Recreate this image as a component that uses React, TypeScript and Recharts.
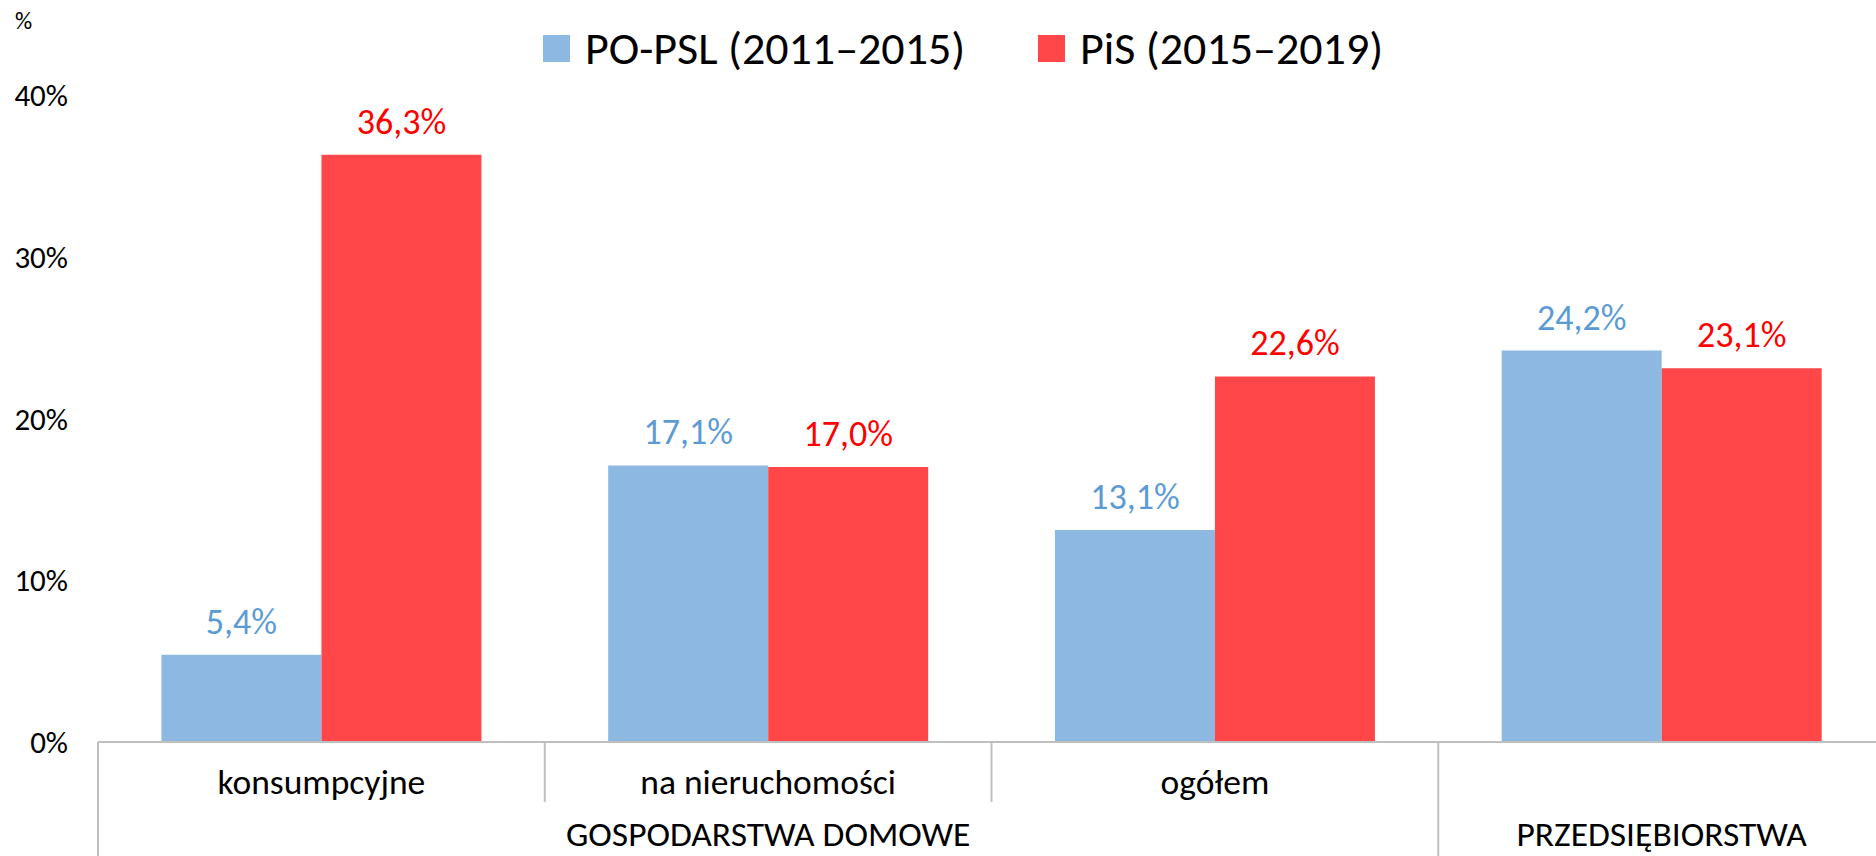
import React from 'react';
import { BarChart, Bar, XAxis, YAxis, Legend, LabelList } from 'recharts';

const categories = ['konsumpcyjne', 'na nieruchomości', 'ogółem', ''];
const groupLabels = ['', 'GOSPODARSTWA DOMOWE', '', 'PRZEDSIĘBIORSTWA'];
const groupStarts = [true, false, false, true];
const poPslValues = [5.4, 17.1, 13.1, 24.2];
const pisValues = [36.3, 17.0, 22.6, 23.1];
const seriesNames = ['PO-PSL (2011–2015)', 'PiS (2015–2019)'];
const yTicks = [0, 10, 20, 30, 40];

const data = categories.map((c, i) => ({
  name: c,
  po: poPslValues[i],
  pis: pisValues[i],
}));

const FONT = "Carlito, Lato, 'Open Sans', sans-serif";
const BLUE = '#8DB8E2';
const RED = '#FF474A';
const BLUE_LABEL = '#5B9BD5';
const RED_LABEL = '#FF0000';
const GRID = '#BFBFBF';

const CHART_W = 1900;
const MARGIN_R = 15;
const YAXIS_W = 98;
const BAND = (CHART_W - MARGIN_R - YAXIS_W) / categories.length;

const fmt = (v: any) => `${Number(v).toFixed(1).replace('.', ',')}%`;

const CatTick = (props: any) => {
  const { x, y, payload, index } = props;
  const half = payload && payload.offset ? payload.offset : BAND / 2;
  const left = x - half;
  const isLast = index === categories.length - 1;
  return (
    <g>
      <line x1={left} x2={left} y1={y} y2={groupStarts[index] ? y + 220 : y + 60} stroke={GRID} strokeWidth={2} />
      {isLast && <line x1={x + half} x2={x + half} y1={y} y2={y + 220} stroke={GRID} strokeWidth={2} />}
      {categories[index] && (
        <text x={x} y={y + 40} textAnchor="middle" dominantBaseline="central" fontSize={35.5} fontFamily={FONT} fill="#000">
          {categories[index]}
        </text>
      )}
      {groupLabels[index] && (
        <text x={x} y={y + 92} textAnchor="middle" dominantBaseline="central" fontSize={35.5} fontFamily={FONT} fill="#000">
          {groupLabels[index]}
        </text>
      )}
    </g>
  );
};

const LegendContent = () => (
  <div style={{ position: 'relative', width: 1876, height: 95, fontFamily: FONT }}>
    <span style={{ position: 'absolute', left: 15, top: 6, fontSize: 24, color: '#000', lineHeight: '30px' }}>%</span>
    {[BLUE, RED].map((col, i) => (
      <div
        key={i}
        style={{ position: 'absolute', left: i === 0 ? 543 : 1038, top: 20, height: 56, display: 'flex', alignItems: 'center' }}
      >
        <div style={{ width: 27, height: 27, background: col, marginRight: 15 }} />
        <span style={{ fontSize: 46, color: '#000', lineHeight: '56px', whiteSpace: 'nowrap' }}>{seriesNames[i]}</span>
      </div>
    ))}
  </div>
);

export default function App() {
  return (
    <div style={{ position: 'fixed', left: 0, top: 0, width: 1876, height: 856, overflow: 'hidden', background: '#fff' }}>
      <BarChart
        width={CHART_W}
        height={856}
        data={data}
        margin={{ top: 0, right: MARGIN_R, bottom: 0, left: 0 }}
        barGap={0}
        barCategoryGap="14.2%"
      >
        <Legend
          verticalAlign="top"
          align="left"
          content={<LegendContent />}
          wrapperStyle={{ top: 0, left: 0, width: 1876, height: 95 }}
        />
        <YAxis
          domain={[0, 40]}
          ticks={yTicks}
          width={YAXIS_W}
          axisLine={false}
          tickLine={false}
          tickSize={6}
          tickMargin={24}
          tickFormatter={(v: number) => `${v}%`}
          tick={{ fill: '#000', fontSize: 31, fontFamily: FONT }}
        />
        <XAxis
          dataKey="name"
          height={114}
          axisLine={{ stroke: GRID, strokeWidth: 2 }}
          tickLine={false}
          tickSize={0}
          tickMargin={0}
          interval={0}
          tick={<CatTick />}
        />
        <Bar dataKey="po" name={seriesNames[0]} fill={BLUE} isAnimationActive={false}>
          <LabelList dataKey="po" position="top" offset={21} formatter={fmt} fill={BLUE_LABEL} fontSize={36} fontFamily={FONT} />
        </Bar>
        <Bar dataKey="pis" name={seriesNames[1]} fill={RED} isAnimationActive={false}>
          <LabelList dataKey="pis" position="top" offset={21} formatter={fmt} fill={RED_LABEL} fontSize={36} fontFamily={FONT} />
        </Bar>
      </BarChart>
    </div>
  );
}
